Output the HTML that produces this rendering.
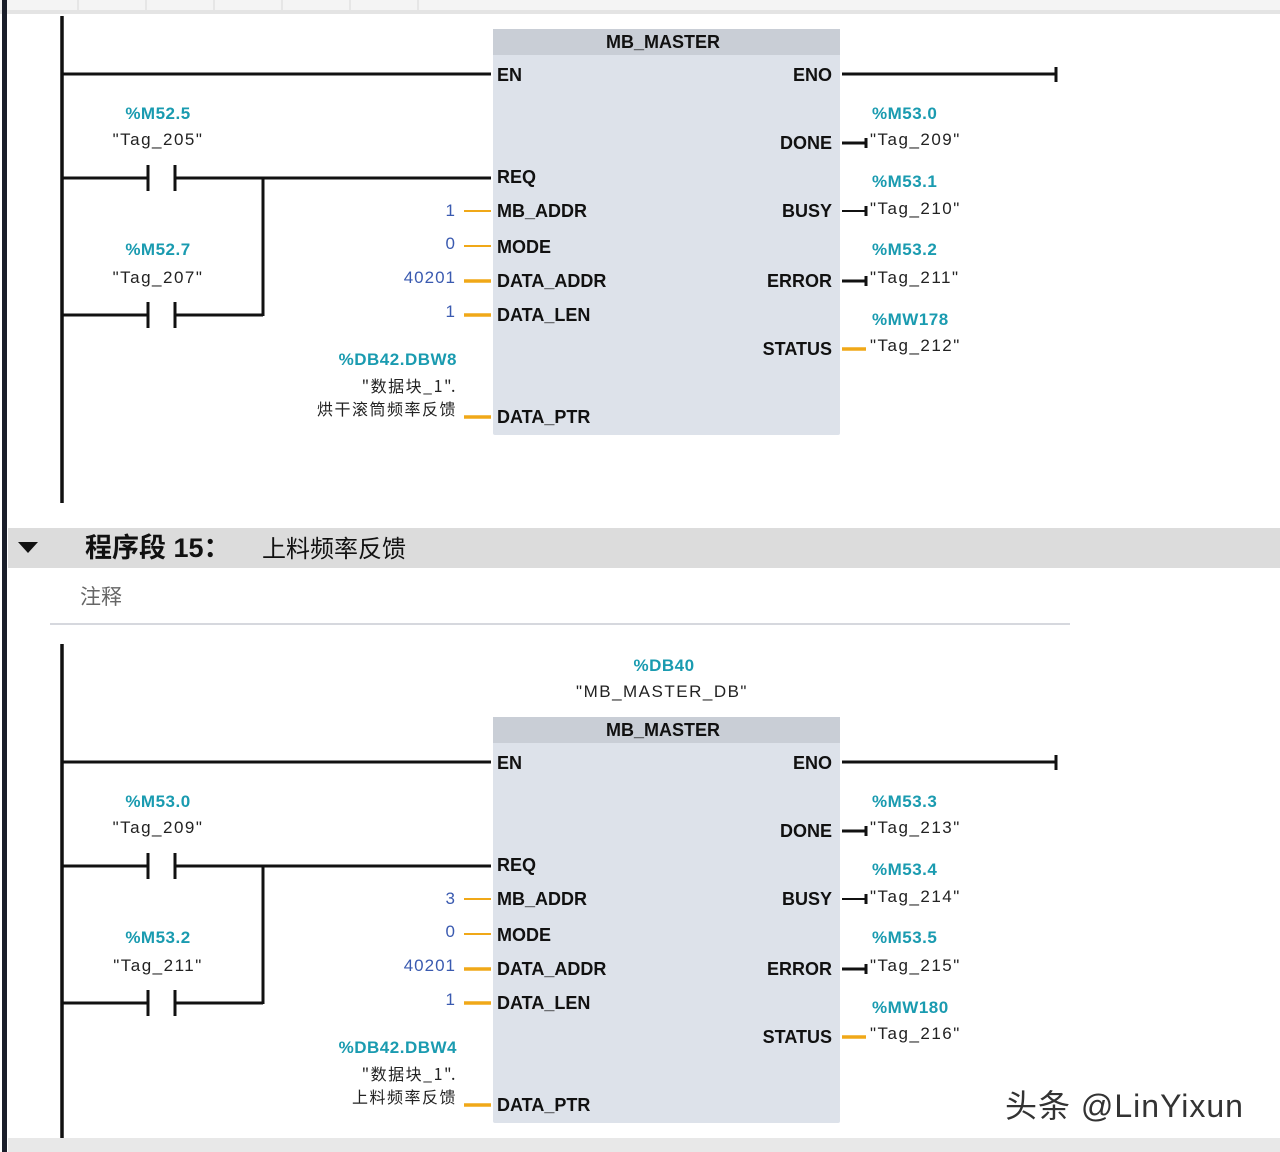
<!DOCTYPE html>
<html><head><meta charset="utf-8">
<style>
html,body{margin:0;padding:0;background:#fff;}
svg{display:block;}
text{font-family:"Liberation Sans","Noto Sans CJK SC",sans-serif;}
.pin{font-size:18px;fill:#111;font-weight:600;}
.cy{font-size:17px;fill:#1a9bb0;font-weight:bold;letter-spacing:0.5px;}
.tag{font-size:17px;fill:#222;letter-spacing:1.5px;}
.num{font-size:17px;fill:#3a5ab0;letter-spacing:1px;}
.cn{font-size:16px;fill:#222;font-family:"Noto Sans CJK SC",sans-serif;letter-spacing:1.5px;}
</style></head><body>
<svg width="1280" height="1152" viewBox="0 0 1280 1152" xmlns="http://www.w3.org/2000/svg">
<rect width="1280" height="1152" fill="#fff"/>
<rect x="0" y="0" width="1280" height="10" fill="#f4f4f4"/>
<rect x="0" y="10" width="1280" height="4" fill="#e4e4e4"/>
<g stroke="#d8d8d8" stroke-width="1">
<line x1="78" y1="0" x2="78" y2="10"/><line x1="146" y1="0" x2="146" y2="10"/><line x1="214" y1="0" x2="214" y2="10"/><line x1="282" y1="0" x2="282" y2="10"/><line x1="350" y1="0" x2="350" y2="10"/><line x1="418" y1="0" x2="418" y2="10"/>
</g>
<rect x="2" y="0" width="5" height="1152" fill="#1a1e2a"/>
<rect x="8" y="528" width="1272" height="40" fill="#dcdcdc"/>
<polygon points="18,542 38,542 28,553" fill="#111"/>
<text x="85" y="557" font-size="27" font-weight="bold" fill="#111" font-family="'Noto Sans CJK SC',sans-serif">程序段 15：</text>
<text x="262" y="557" font-size="24" fill="#111" font-family="'Noto Sans CJK SC',sans-serif">上料频率反馈</text>
<text x="80" y="604" font-size="21" fill="#666" font-family="'Noto Sans CJK SC',sans-serif">注释</text>
<line x1="50" y1="624" x2="1070" y2="624" stroke="#c8ccd4" stroke-width="1.5"/>
<rect x="8" y="1138" width="1272" height="14" fill="#e8e8e8"/>
<line x1="62" y1="16" x2="62" y2="503" stroke="#111" stroke-width="3.5"/>
<line x1="62" y1="644" x2="62" y2="1138" stroke="#111" stroke-width="3.5"/>

<g>
<rect x="493" y="29" width="347" height="406" fill="#dde2ea" rx="2"/>
<rect x="493" y="29" width="347" height="26" fill="#c9ced6"/>
<text x="663" y="48" class="pin" text-anchor="middle" font-weight="bold">MB_MASTER</text>
<g stroke="#111" stroke-width="3" fill="none">
<line x1="62" y1="74" x2="491" y2="74"/>
<line x1="62" y1="178" x2="148" y2="178"/><line x1="175" y1="178" x2="491" y2="178"/>
<line x1="62" y1="315" x2="148" y2="315"/><line x1="175" y1="315" x2="263" y2="315"/>
<line x1="263" y1="178" x2="263" y2="316"/>
<line x1="148" y1="165" x2="148" y2="191"/><line x1="175" y1="165" x2="175" y2="191"/>
<line x1="148" y1="302" x2="148" y2="328"/><line x1="175" y1="302" x2="175" y2="328"/>
<line x1="842" y1="74" x2="1056" y2="74"/><line x1="1056" y1="67" x2="1056" y2="82"/>
<line x1="842" y1="143" x2="866" y2="143"/><line x1="866" y1="138" x2="866" y2="148"/>
<line x1="842" y1="211" x2="866" y2="211" stroke-width="2"/><line x1="866" y1="206" x2="866" y2="216"/>
<line x1="842" y1="281" x2="866" y2="281"/><line x1="866" y1="276" x2="866" y2="286"/>
</g>
<g stroke="#f0a818" fill="none">
<line x1="464" y1="211" x2="491" y2="211" stroke-width="2"/>
<line x1="464" y1="246" x2="491" y2="246" stroke-width="2"/>
<line x1="464" y1="281" x2="491" y2="281" stroke-width="3.5"/>
<line x1="464" y1="315" x2="491" y2="315" stroke-width="3.5"/>
<line x1="464" y1="417" x2="491" y2="417" stroke-width="3.5"/>
<line x1="842" y1="349" x2="866" y2="349" stroke-width="3.5"/>
</g>
<text x="497" y="81" class="pin">EN</text>
<text x="497" y="183" class="pin">REQ</text>
<text x="497" y="217" class="pin">MB_ADDR</text>
<text x="497" y="253" class="pin">MODE</text>
<text x="497" y="287" class="pin">DATA_ADDR</text>
<text x="497" y="321" class="pin">DATA_LEN</text>
<text x="497" y="423" class="pin">DATA_PTR</text>
<text x="832" y="81" class="pin" text-anchor="end">ENO</text>
<text x="832" y="149" class="pin" text-anchor="end">DONE</text>
<text x="832" y="217" class="pin" text-anchor="end">BUSY</text>
<text x="832" y="287" class="pin" text-anchor="end">ERROR</text>
<text x="832" y="355" class="pin" text-anchor="end">STATUS</text>
<text x="456" y="216" class="num" text-anchor="end">1</text>
<text x="456" y="249" class="num" text-anchor="end">0</text>
<text x="456" y="283" class="num" text-anchor="end" letter-spacing="3">40201</text>
<text x="456" y="317" class="num" text-anchor="end">1</text>
<text x="158" y="119" class="cy" text-anchor="middle">%M52.5</text>
<text x="158" y="145" class="tag" text-anchor="middle">"Tag_205"</text>
<text x="158" y="255" class="cy" text-anchor="middle">%M52.7</text>
<text x="158" y="283" class="tag" text-anchor="middle">"Tag_207"</text>
<text x="457" y="365" class="cy" text-anchor="end">%DB42.DBW8</text>
<text x="457" y="392" class="cn" text-anchor="end">"数据块_1".</text>
<text x="457" y="415" class="cn" text-anchor="end" letter-spacing="4">烘干滚筒频率反馈</text>
<text x="872" y="119" class="cy">%M53.0</text>
<text x="870" y="145" class="tag">"Tag_209"</text>
<text x="872" y="187" class="cy">%M53.1</text>
<text x="870" y="214" class="tag">"Tag_210"</text>
<text x="872" y="255" class="cy">%M53.2</text>
<text x="870" y="283" class="tag">"Tag_211"</text>
<text x="872" y="325" class="cy">%MW178</text>
<text x="870" y="351" class="tag">"Tag_212"</text>
</g>

<g transform="translate(0,688)">
<rect x="493" y="29" width="347" height="406" fill="#dde2ea" rx="2"/>
<rect x="493" y="29" width="347" height="26" fill="#c9ced6"/>
<text x="663" y="48" class="pin" text-anchor="middle" font-weight="bold">MB_MASTER</text>
<text x="664" y="-17" class="cy" text-anchor="middle">%DB40</text>
<text x="662" y="9" class="tag" text-anchor="middle">"MB_MASTER_DB"</text>
<g stroke="#111" stroke-width="3" fill="none">
<line x1="62" y1="74" x2="491" y2="74"/>
<line x1="62" y1="178" x2="148" y2="178"/><line x1="175" y1="178" x2="491" y2="178"/>
<line x1="62" y1="315" x2="148" y2="315"/><line x1="175" y1="315" x2="263" y2="315"/>
<line x1="263" y1="178" x2="263" y2="316"/>
<line x1="148" y1="165" x2="148" y2="191"/><line x1="175" y1="165" x2="175" y2="191"/>
<line x1="148" y1="302" x2="148" y2="328"/><line x1="175" y1="302" x2="175" y2="328"/>
<line x1="842" y1="74" x2="1056" y2="74"/><line x1="1056" y1="67" x2="1056" y2="82"/>
<line x1="842" y1="143" x2="866" y2="143"/><line x1="866" y1="138" x2="866" y2="148"/>
<line x1="842" y1="211" x2="866" y2="211" stroke-width="2"/><line x1="866" y1="206" x2="866" y2="216"/>
<line x1="842" y1="281" x2="866" y2="281"/><line x1="866" y1="276" x2="866" y2="286"/>
</g>
<g stroke="#f0a818" fill="none">
<line x1="464" y1="211" x2="491" y2="211" stroke-width="2"/>
<line x1="464" y1="246" x2="491" y2="246" stroke-width="2"/>
<line x1="464" y1="281" x2="491" y2="281" stroke-width="3.5"/>
<line x1="464" y1="315" x2="491" y2="315" stroke-width="3.5"/>
<line x1="464" y1="417" x2="491" y2="417" stroke-width="3.5"/>
<line x1="842" y1="349" x2="866" y2="349" stroke-width="3.5"/>
</g>
<text x="497" y="81" class="pin">EN</text>
<text x="497" y="183" class="pin">REQ</text>
<text x="497" y="217" class="pin">MB_ADDR</text>
<text x="497" y="253" class="pin">MODE</text>
<text x="497" y="287" class="pin">DATA_ADDR</text>
<text x="497" y="321" class="pin">DATA_LEN</text>
<text x="497" y="423" class="pin">DATA_PTR</text>
<text x="832" y="81" class="pin" text-anchor="end">ENO</text>
<text x="832" y="149" class="pin" text-anchor="end">DONE</text>
<text x="832" y="217" class="pin" text-anchor="end">BUSY</text>
<text x="832" y="287" class="pin" text-anchor="end">ERROR</text>
<text x="832" y="355" class="pin" text-anchor="end">STATUS</text>
<text x="456" y="216" class="num" text-anchor="end">3</text>
<text x="456" y="249" class="num" text-anchor="end">0</text>
<text x="456" y="283" class="num" text-anchor="end" letter-spacing="3">40201</text>
<text x="456" y="317" class="num" text-anchor="end">1</text>
<text x="158" y="119" class="cy" text-anchor="middle">%M53.0</text>
<text x="158" y="145" class="tag" text-anchor="middle">"Tag_209"</text>
<text x="158" y="255" class="cy" text-anchor="middle">%M53.2</text>
<text x="158" y="283" class="tag" text-anchor="middle">"Tag_211"</text>
<text x="457" y="365" class="cy" text-anchor="end">%DB42.DBW4</text>
<text x="457" y="392" class="cn" text-anchor="end">"数据块_1".</text>
<text x="457" y="415" class="cn" text-anchor="end" letter-spacing="4">上料频率反馈</text>
<text x="872" y="119" class="cy">%M53.3</text>
<text x="870" y="145" class="tag">"Tag_213"</text>
<text x="872" y="187" class="cy">%M53.4</text>
<text x="870" y="214" class="tag">"Tag_214"</text>
<text x="872" y="255" class="cy">%M53.5</text>
<text x="870" y="283" class="tag">"Tag_215"</text>
<text x="872" y="325" class="cy">%MW180</text>
<text x="870" y="351" class="tag">"Tag_216"</text>
</g>

<text x="1005" y="1117" font-size="32" fill="#333" letter-spacing="1" font-family="'Liberation Sans','Noto Sans CJK SC',sans-serif">头条 @LinYixun</text>
</svg>
</body></html>
